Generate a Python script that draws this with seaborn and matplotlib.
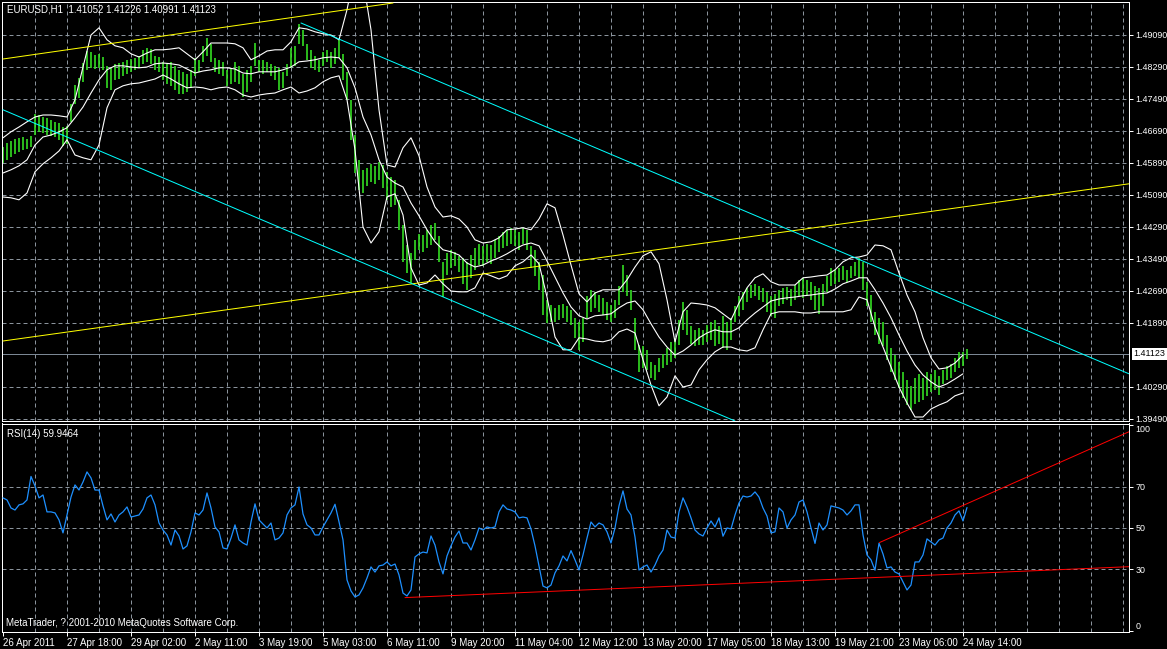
import numpy as np
import matplotlib
matplotlib.use("Agg")
import matplotlib.pyplot as plt
import seaborn as sns

# ---- data (one sample = 2 hourly bars) ----
bar_high = [
    1.4629, 1.4639, 1.4644, 1.4649, 1.4652, 1.4654, 1.4649, 1.4657, 1.4712, 1.4709,
    1.4704, 1.4702, 1.4697, 1.4692, 1.4689, 1.4679, 1.4682, 1.4737, 1.4784, 1.4802,
    1.4839, 1.4869, 1.4867, 1.4859, 1.4862, 1.4854, 1.4832, 1.4827, 1.4837, 1.4839,
    1.4842, 1.4847, 1.4849, 1.4852, 1.4857, 1.4872, 1.4877, 1.4874, 1.4857, 1.4854,
    1.4842, 1.4837, 1.4842, 1.4832, 1.4822, 1.4817, 1.4812, 1.4822, 1.4852, 1.4847,
    1.4882, 1.4902, 1.4887, 1.4852, 1.4847, 1.4842, 1.4822, 1.4827, 1.4842, 1.4832,
    1.4812, 1.4822, 1.4832, 1.4889, 1.4847, 1.4847, 1.4842, 1.4837, 1.4832, 1.4827,
    1.4817, 1.4837, 1.4877, 1.4882, 1.4937, 1.4922, 1.4887, 1.4872, 1.4857, 1.4847,
    1.4867, 1.4872, 1.4867, 1.4877, 1.4897, 1.4862, 1.4817, 1.4747, 1.4659, 1.4597,
    1.4572, 1.4577, 1.4587, 1.4582, 1.4592, 1.4584, 1.4567, 1.4554, 1.4547, 1.4497,
    1.4434, 1.4384, 1.4364, 1.4397, 1.4412, 1.4409, 1.4422, 1.4434, 1.4439, 1.4407,
    1.4342, 1.4364, 1.4372, 1.4367, 1.4357, 1.4352, 1.4342, 1.4359, 1.4377, 1.4387,
    1.4382, 1.4387, 1.4384, 1.4397, 1.4407, 1.4417, 1.4422, 1.4427, 1.4422, 1.4417,
    1.4427, 1.4422, 1.4382, 1.4372, 1.4342, 1.4309, 1.4247, 1.4234, 1.4227, 1.4234,
    1.4237, 1.4232, 1.4222, 1.4202, 1.4192, 1.4202, 1.4257, 1.4272, 1.4267, 1.4259,
    1.4252, 1.4242, 1.4234, 1.4247, 1.4282, 1.4334, 1.4309, 1.4272, 1.4202, 1.4134,
    1.4132, 1.4122, 1.4092, 1.4084, 1.4102, 1.4112, 1.4127, 1.4142, 1.4152, 1.4197,
    1.4242, 1.4222, 1.4182, 1.4172, 1.4177, 1.4172, 1.4184, 1.4192, 1.4197, 1.4182,
    1.4207, 1.4192, 1.4202, 1.4232, 1.4257, 1.4267, 1.4277, 1.4284, 1.4287, 1.4282,
    1.4277, 1.4267, 1.4257, 1.4262, 1.4272, 1.4277, 1.4279, 1.4274, 1.4284, 1.4297,
    1.4302, 1.4297, 1.4292, 1.4282, 1.4277, 1.4287, 1.4307, 1.4327, 1.4322, 1.4327,
    1.4332, 1.4322, 1.4332, 1.4342, 1.4352, 1.4342, 1.4292, 1.4259, 1.4217, 1.4202,
    1.4192, 1.4159, 1.4127, 1.4109, 1.4092, 1.4067, 1.4047, 1.4032, 1.4052, 1.4062,
    1.4052, 1.4067, 1.4062, 1.4072, 1.4057, 1.4072, 1.4082, 1.4087, 1.4102, 1.4117,
    1.4117, 1.4123,
]
bar_low = [
    1.4589, 1.4597, 1.4604, 1.4612, 1.4617, 1.4622, 1.4624, 1.4629, 1.4659, 1.4667,
    1.4664, 1.4659, 1.4657, 1.4654, 1.4647, 1.4632, 1.4637, 1.4692, 1.4737, 1.4752,
    1.4792, 1.4822, 1.4827, 1.4824, 1.4827, 1.4822, 1.4777, 1.4772, 1.4797, 1.4799,
    1.4807, 1.4812, 1.4817, 1.4822, 1.4827, 1.4837, 1.4842, 1.4837, 1.4822, 1.4817,
    1.4797, 1.4787, 1.4782, 1.4772, 1.4762, 1.4762, 1.4767, 1.4777, 1.4807, 1.4817,
    1.4842, 1.4857, 1.4842, 1.4817, 1.4812, 1.4807, 1.4782, 1.4787, 1.4792, 1.4787,
    1.4754, 1.4767, 1.4792, 1.4832, 1.4817, 1.4812, 1.4817, 1.4807, 1.4797, 1.4772,
    1.4777, 1.4807, 1.4827, 1.4832, 1.4887, 1.4882, 1.4847, 1.4827, 1.4822, 1.4817,
    1.4832, 1.4842, 1.4827, 1.4837, 1.4852, 1.4797, 1.4747, 1.4647, 1.4564, 1.4522,
    1.4514, 1.4532, 1.4542, 1.4537, 1.4547, 1.4527, 1.4497, 1.4479, 1.4484, 1.4422,
    1.4342, 1.4314, 1.4289, 1.4347, 1.4372, 1.4367, 1.4377, 1.4384, 1.4397, 1.4342,
    1.4254, 1.4309, 1.4327, 1.4332, 1.4317, 1.4287, 1.4272, 1.4302, 1.4322, 1.4334,
    1.4332, 1.4342, 1.4337, 1.4352, 1.4367, 1.4377, 1.4382, 1.4387, 1.4382, 1.4372,
    1.4387, 1.4372, 1.4327, 1.4307, 1.4272, 1.4209, 1.4189, 1.4192, 1.4192, 1.4197,
    1.4202, 1.4192, 1.4184, 1.4152, 1.4122, 1.4142, 1.4202, 1.4217, 1.4227, 1.4217,
    1.4209, 1.4197, 1.4192, 1.4202, 1.4234, 1.4267, 1.4257, 1.4222, 1.4122, 1.4067,
    1.4077, 1.4072, 1.4052, 1.4047, 1.4067, 1.4077, 1.4084, 1.4092, 1.4102, 1.4134,
    1.4172, 1.4159, 1.4137, 1.4132, 1.4134, 1.4134, 1.4142, 1.4147, 1.4132, 1.4137,
    1.4127, 1.4122, 1.4147, 1.4192, 1.4207, 1.4222, 1.4242, 1.4252, 1.4257, 1.4247,
    1.4242, 1.4217, 1.4207, 1.4202, 1.4232, 1.4237, 1.4247, 1.4232, 1.4247, 1.4257,
    1.4252, 1.4259, 1.4247, 1.4222, 1.4212, 1.4232, 1.4267, 1.4282, 1.4287, 1.4292,
    1.4297, 1.4292, 1.4302, 1.4307, 1.4302, 1.4272, 1.4232, 1.4192, 1.4159, 1.4137,
    1.4132, 1.4097, 1.4067, 1.4047, 1.4027, 1.4002, 1.3984, 1.3972, 1.3987, 1.3992,
    1.3997, 1.4007, 1.4017, 1.4022, 1.4009, 1.4037, 1.4047, 1.4052, 1.4067, 1.4077,
    1.4082, 1.4099,
]

# Bollinger bands, one value every 2 samples
bb_upper = [
    1.4652, 1.4667, 1.4679, 1.4692, 1.4704, 1.4709, 1.4709, 1.4707, 1.4704, 1.4747,
    1.4829, 1.4909, 1.4927, 1.4897, 1.4882, 1.4877, 1.4862, 1.4854, 1.4864, 1.4872,
    1.4872, 1.4874, 1.4877, 1.4862, 1.4847, 1.4867, 1.4889, 1.4889, 1.4889, 1.4887,
    1.4877, 1.4847, 1.4857, 1.4869, 1.4872, 1.4872, 1.4892, 1.4927, 1.4924, 1.4917,
    1.4912, 1.4909, 1.4897, 1.4972, 1.5072, 1.5047, 1.4922, 1.4722, 1.4584, 1.4579,
    1.4627, 1.4652, 1.4607, 1.4529, 1.4479, 1.4454, 1.4457, 1.4449, 1.4429, 1.4397,
    1.4389, 1.4392, 1.4402, 1.4422, 1.4424, 1.4427, 1.4422, 1.4449, 1.4487, 1.4477,
    1.4409, 1.4334, 1.4262, 1.4242, 1.4264, 1.4272, 1.4272, 1.4272, 1.4297, 1.4329,
    1.4357, 1.4367, 1.4337, 1.4247, 1.4142, 1.4217, 1.4239, 1.4237, 1.4234, 1.4227,
    1.4212, 1.4197, 1.4239, 1.4277, 1.4302, 1.4312, 1.4292, 1.4284, 1.4284, 1.4284,
    1.4302, 1.4304, 1.4307, 1.4309, 1.4322, 1.4342, 1.4352, 1.4354, 1.4359, 1.4384,
    1.4382, 1.4372, 1.4314, 1.4259, 1.4217, 1.4152, 1.4102, 1.4074, 1.4077, 1.4089,
    1.4109,
]
bb_middle = [
    1.4564, 1.4572, 1.4582, 1.4597, 1.4634, 1.4654, 1.4659, 1.4667, 1.4677, 1.4702,
    1.4729, 1.4764, 1.4797, 1.4822, 1.4832, 1.4832, 1.4829, 1.4827, 1.4829, 1.4837,
    1.4839, 1.4837, 1.4834, 1.4824, 1.4814, 1.4819, 1.4822, 1.4827, 1.4827, 1.4824,
    1.4814, 1.4812, 1.4817, 1.4817, 1.4817, 1.4822, 1.4829, 1.4842, 1.4844, 1.4847,
    1.4852, 1.4854, 1.4852, 1.4827, 1.4777, 1.4704, 1.4659, 1.4597, 1.4554, 1.4539,
    1.4529, 1.4489, 1.4457, 1.4422, 1.4392, 1.4372, 1.4367, 1.4359, 1.4339, 1.4329,
    1.4334, 1.4344, 1.4352, 1.4362, 1.4374, 1.4384, 1.4389, 1.4382, 1.4344, 1.4304,
    1.4264, 1.4229, 1.4207, 1.4199, 1.4207, 1.4209, 1.4212, 1.4227, 1.4239, 1.4244,
    1.4222, 1.4187, 1.4154, 1.4129, 1.4109, 1.4119, 1.4134, 1.4152, 1.4164, 1.4172,
    1.4167, 1.4167, 1.4177, 1.4197, 1.4214, 1.4229, 1.4244, 1.4249, 1.4252, 1.4254,
    1.4257, 1.4259, 1.4262, 1.4264, 1.4274, 1.4287, 1.4294, 1.4302, 1.4302, 1.4272,
    1.4239, 1.4202, 1.4159, 1.4119, 1.4084, 1.4059, 1.4042, 1.4029, 1.4037, 1.4049,
    1.4062,
]
bb_lower = [
    1.4504, 1.4502, 1.4497, 1.4514, 1.4567, 1.4587, 1.4602, 1.4619, 1.4647, 1.4609,
    1.4602, 1.4597, 1.4634, 1.4727, 1.4772, 1.4782, 1.4787, 1.4789, 1.4794, 1.4799,
    1.4809, 1.4799, 1.4787, 1.4777, 1.4779, 1.4777, 1.4772, 1.4777, 1.4779, 1.4772,
    1.4759, 1.4754, 1.4759, 1.4762, 1.4764, 1.4772, 1.4779, 1.4764, 1.4769, 1.4777,
    1.4792, 1.4802, 1.4807, 1.4747, 1.4622, 1.4429, 1.4389, 1.4417, 1.4504, 1.4512,
    1.4459, 1.4327, 1.4284, 1.4289, 1.4309, 1.4287, 1.4269, 1.4267, 1.4267, 1.4277,
    1.4314, 1.4307, 1.4299, 1.4307, 1.4332, 1.4342, 1.4359, 1.4337, 1.4254, 1.4154,
    1.4122, 1.4122, 1.4152, 1.4149, 1.4144, 1.4142, 1.4147, 1.4167, 1.4174, 1.4164,
    1.4097, 1.4034, 1.3982, 1.4004, 1.4057, 1.4029, 1.4034, 1.4072, 1.4097, 1.4117,
    1.4129, 1.4129, 1.4122, 1.4119, 1.4127, 1.4172, 1.4212, 1.4217, 1.4217, 1.4217,
    1.4214, 1.4214, 1.4217, 1.4217, 1.4217, 1.4217, 1.4222, 1.4254, 1.4247, 1.4179,
    1.4129, 1.4079, 1.4029, 1.3989, 1.3954, 1.3954, 1.3974, 1.3984, 1.3992, 1.4007,
    1.4014,
]

rsi = [
    64.6, 63.6, 59.7, 58.7, 61.2, 61.7, 63.6, 75.0, 70.4, 64.6,
    66.0, 57.8, 57.8, 57.3, 53.9, 47.6, 56.3, 65.0, 70.9, 68.4,
    72.3, 77.2, 74.3, 68.4, 68.4, 60.7, 53.9, 56.8, 52.9, 56.3,
    57.8, 60.2, 55.3, 55.8, 56.3, 59.2, 64.6, 66.0, 61.2, 52.4,
    49.0, 46.6, 41.7, 49.0, 46.1, 39.8, 41.3, 48.1, 57.3, 56.3,
    58.7, 67.0, 59.7, 50.5, 48.1, 40.3, 39.8, 45.1, 51.5, 44.2,
    42.7, 41.7, 52.9, 61.7, 53.9, 51.9, 50.0, 52.4, 44.2, 45.1,
    47.6, 56.3, 59.7, 61.2, 69.9, 56.8, 51.5, 50.0, 46.6, 46.6,
    50.5, 53.9, 57.3, 61.5, 53.0, 44.2, 24.8, 19.4, 16.5, 17.5,
    20.9, 25.7, 31.1, 28.6, 31.6, 32.0, 33.5, 31.6, 32.5, 27.2,
    18.4, 17.0, 19.9, 35.9, 37.4, 38.3, 37.9, 46.1, 41.7, 33.5,
    27.7, 36.4, 41.3, 45.6, 48.5, 42.7, 42.7, 39.3, 44.2, 50.0,
    49.0, 50.5, 50.0, 50.5, 57.8, 61.2, 59.2, 58.7, 57.8, 54.9,
    55.3, 54.9, 49.5, 41.3, 31.6, 21.8, 20.9, 22.3, 28.2, 31.6,
    36.4, 34.0, 39.0, 34.5, 29.6, 36.9, 45.1, 52.9, 50.5, 52.4,
    51.5, 48.1, 42.7, 50.0, 60.7, 68.0, 59.2, 56.3, 45.6, 29.6,
    31.1, 32.0, 28.6, 32.0, 36.4, 39.3, 49.0, 45.6, 45.1, 57.8,
    64.6, 60.2, 54.9, 49.0, 47.1, 46.1, 50.0, 53.4, 50.5, 54.9,
    46.0, 50.0, 49.5, 56.3, 62.1, 65.5, 65.0, 65.5, 67.5, 65.0,
    59.7, 55.8, 47.6, 48.1, 59.7, 57.8, 50.0, 53.9, 56.3, 62.6,
    63.6, 57.8, 50.0, 42.5, 52.4, 49.0, 51.5, 60.7, 60.2, 59.7,
    58.7, 56.3, 58.3, 61.2, 61.2, 46.6, 36.9, 34.5, 29.5, 42.6,
    37.4, 30.6, 31.1, 28.6, 27.7, 23.8, 19.9, 22.3, 33.5, 33.5,
    36.9, 44.7, 43.2, 41.7, 44.2, 45.1, 50.0, 52.4, 56.3, 58.3,
    53.4, 59.9,
]

time_labels = ["26 Apr 2011", "27 Apr 18:00", "29 Apr 02:00", "2 May 11:00",
               "3 May 19:00", "5 May 03:00", "6 May 11:00", "9 May 20:00",
               "11 May 04:00", "12 May 12:00", "13 May 20:00", "17 May 05:00",
               "18 May 13:00", "19 May 21:00", "23 May 06:00", "24 May 14:00"]
price_ticks = [1.49090, 1.48290, 1.47490, 1.46690, 1.45890, 1.45090, 1.44290,
               1.43490, 1.42690, 1.41890, 1.41123, 1.40290, 1.39490]
rsi_ticks = [100, 70, 50, 30, 0]
last_price = 1.41123
chart_title = "EURUSD,H1  1.41052 1.41226 1.40991 1.41123"
rsi_title = "RSI(14) 59.9464"
footer = "MetaTrader, ? 2001-2010 MetaQuotes Software Corp."

# trend lines: (sample positions, values)
price_lines = [
    ([0, 97.5], [1.4849, 1.4989], "#ffff00"),
    ([0, 281.5], [1.4144, 1.4537], "#ffff00"),
    ([0, 183.0], [1.4722, 1.3944], "#00ffff"),
    ([74.5, 281.5], [1.4939, 1.4062], "#00ffff"),
]
rsi_lines = [
    ([100.5, 281.5], [16.2, 31.2], "#ff0000"),
    ([219.1, 281.5], [42.9, 96.7], "#ff0000"),
]

# ---- drawing ----
sns.set_style("dark", {"axes.facecolor": "black", "figure.facecolor": "black"})
plt.rcParams["font.family"] = ["Liberation Sans", "DejaVu Sans"]

W, H = 1167, 649
PX = 0.72
GRID = "#8a939c"
FS = 7       # titles and time labels
FS_AX = 6.4  # right-hand scale labels

fig = plt.figure(figsize=(W / 100, H / 100), dpi=100, facecolor="black")
ax = fig.add_axes([2 / W, (H - 421) / H, 1127 / W, 419 / H])
ax2 = fig.add_axes([2 / W, (H - 632) / H, 1127 / W, 208.5 / H])

x_bars = np.arange(len(bar_high))
x_bb = np.arange(len(bb_upper)) * 2
x_rsi = np.arange(len(rsi))

for a in (ax, ax2):
    a.set_facecolor("black")
    a.grid(False)
    a.set_xlim(-0.25, 281.5)
    for gx in range(8, 282, 8):
        a.axvline(gx, color=GRID, lw=PX, dashes=(4, 3), zorder=0)
    for s in a.spines.values():
        s.set_color("white")
        s.set_linewidth(PX)
        s.set_visible(True)

# price panel
for p in price_ticks:
    if p != last_price:
        ax.axhline(p, color=GRID, lw=PX, dashes=(4, 3), zorder=0)
ax.axhline(last_price, color="#7b8794", lw=PX, zorder=0)

ax.vlines(x_bars, bar_low, bar_high, color="#33dd22", lw=1.2, zorder=2)
for band in (bb_upper, bb_middle, bb_lower):
    sns.lineplot(x=x_bb, y=band, ax=ax, color="white", lw=0.8, sort=False,
                 estimator=None, zorder=3)
for xs, ys, c in price_lines:
    ax.plot(xs, ys, color=c, lw=PX, zorder=4)

ax.set_ylim(1.39440, 1.49915)
ax.set_xticks([])
ax.yaxis.tick_right()
ticks_shown = [p for p in price_ticks if p != last_price]
ax.set_yticks(ticks_shown)
ax.set_yticklabels([f"{p:.5f}" for p in ticks_shown])
ax.tick_params(axis="y", colors="white", labelsize=FS_AX, length=3, width=PX,
               pad=1.5, right=True, left=False)
ax.annotate(f"{last_price:.5f}", xy=(1, last_price),
            xycoords=("axes fraction", "data"), xytext=(3.2, 0),
            textcoords="offset points", va="center", ha="left", fontsize=FS_AX,
            color="black", annotation_clip=False,
            bbox=dict(boxstyle="square,pad=0.15", fc="white", ec="none"))

# RSI panel
for r in (70, 50, 30):
    ax2.axhline(r, color=GRID, lw=PX, dashes=(4, 3), zorder=0)
sns.lineplot(x=x_rsi, y=rsi, ax=ax2, color="#1e90ff", lw=0.9, sort=False,
             estimator=None, zorder=3)
for xs, ys, c in rsi_lines:
    ax2.plot(xs, ys, color=c, lw=PX, zorder=4)

ax2.set_ylim(-0.5, 100.7)
ax2.yaxis.tick_right()
ax2.set_yticks(rsi_ticks)
ax2.set_yticklabels([str(r) for r in rsi_ticks])
ax2.tick_params(axis="y", colors="white", labelsize=FS_AX, length=3, width=PX,
                pad=1.5, right=True, left=False)
for lab in ax2.get_yticklabels():
    if lab.get_text() == "100":
        lab.set_va("top")
    elif lab.get_text() == "0":
        lab.set_va("bottom")

ax2.set_xticks(np.arange(len(time_labels)) * 16)
ax2.set_xticklabels(time_labels)
for lab in ax2.get_xticklabels():
    lab.set_ha("left")
ax2.tick_params(axis="x", colors="white", labelsize=FS, length=3, width=PX,
                pad=1.2, bottom=True)
ax.set_xlabel("")
ax.set_ylabel("")
ax2.set_xlabel("")
ax2.set_ylabel("")

fig.text(7 / W, 1 - 10 / H, chart_title, color="white", fontsize=FS, va="center")
fig.text(7 / W, 1 - 434 / H, rsi_title, color="white", fontsize=FS, va="center")
fig.text(6 / W, 1 - 623 / H, footer, color="white", fontsize=FS, va="center")

fig.savefig("out.png", dpi=100, facecolor="black")
